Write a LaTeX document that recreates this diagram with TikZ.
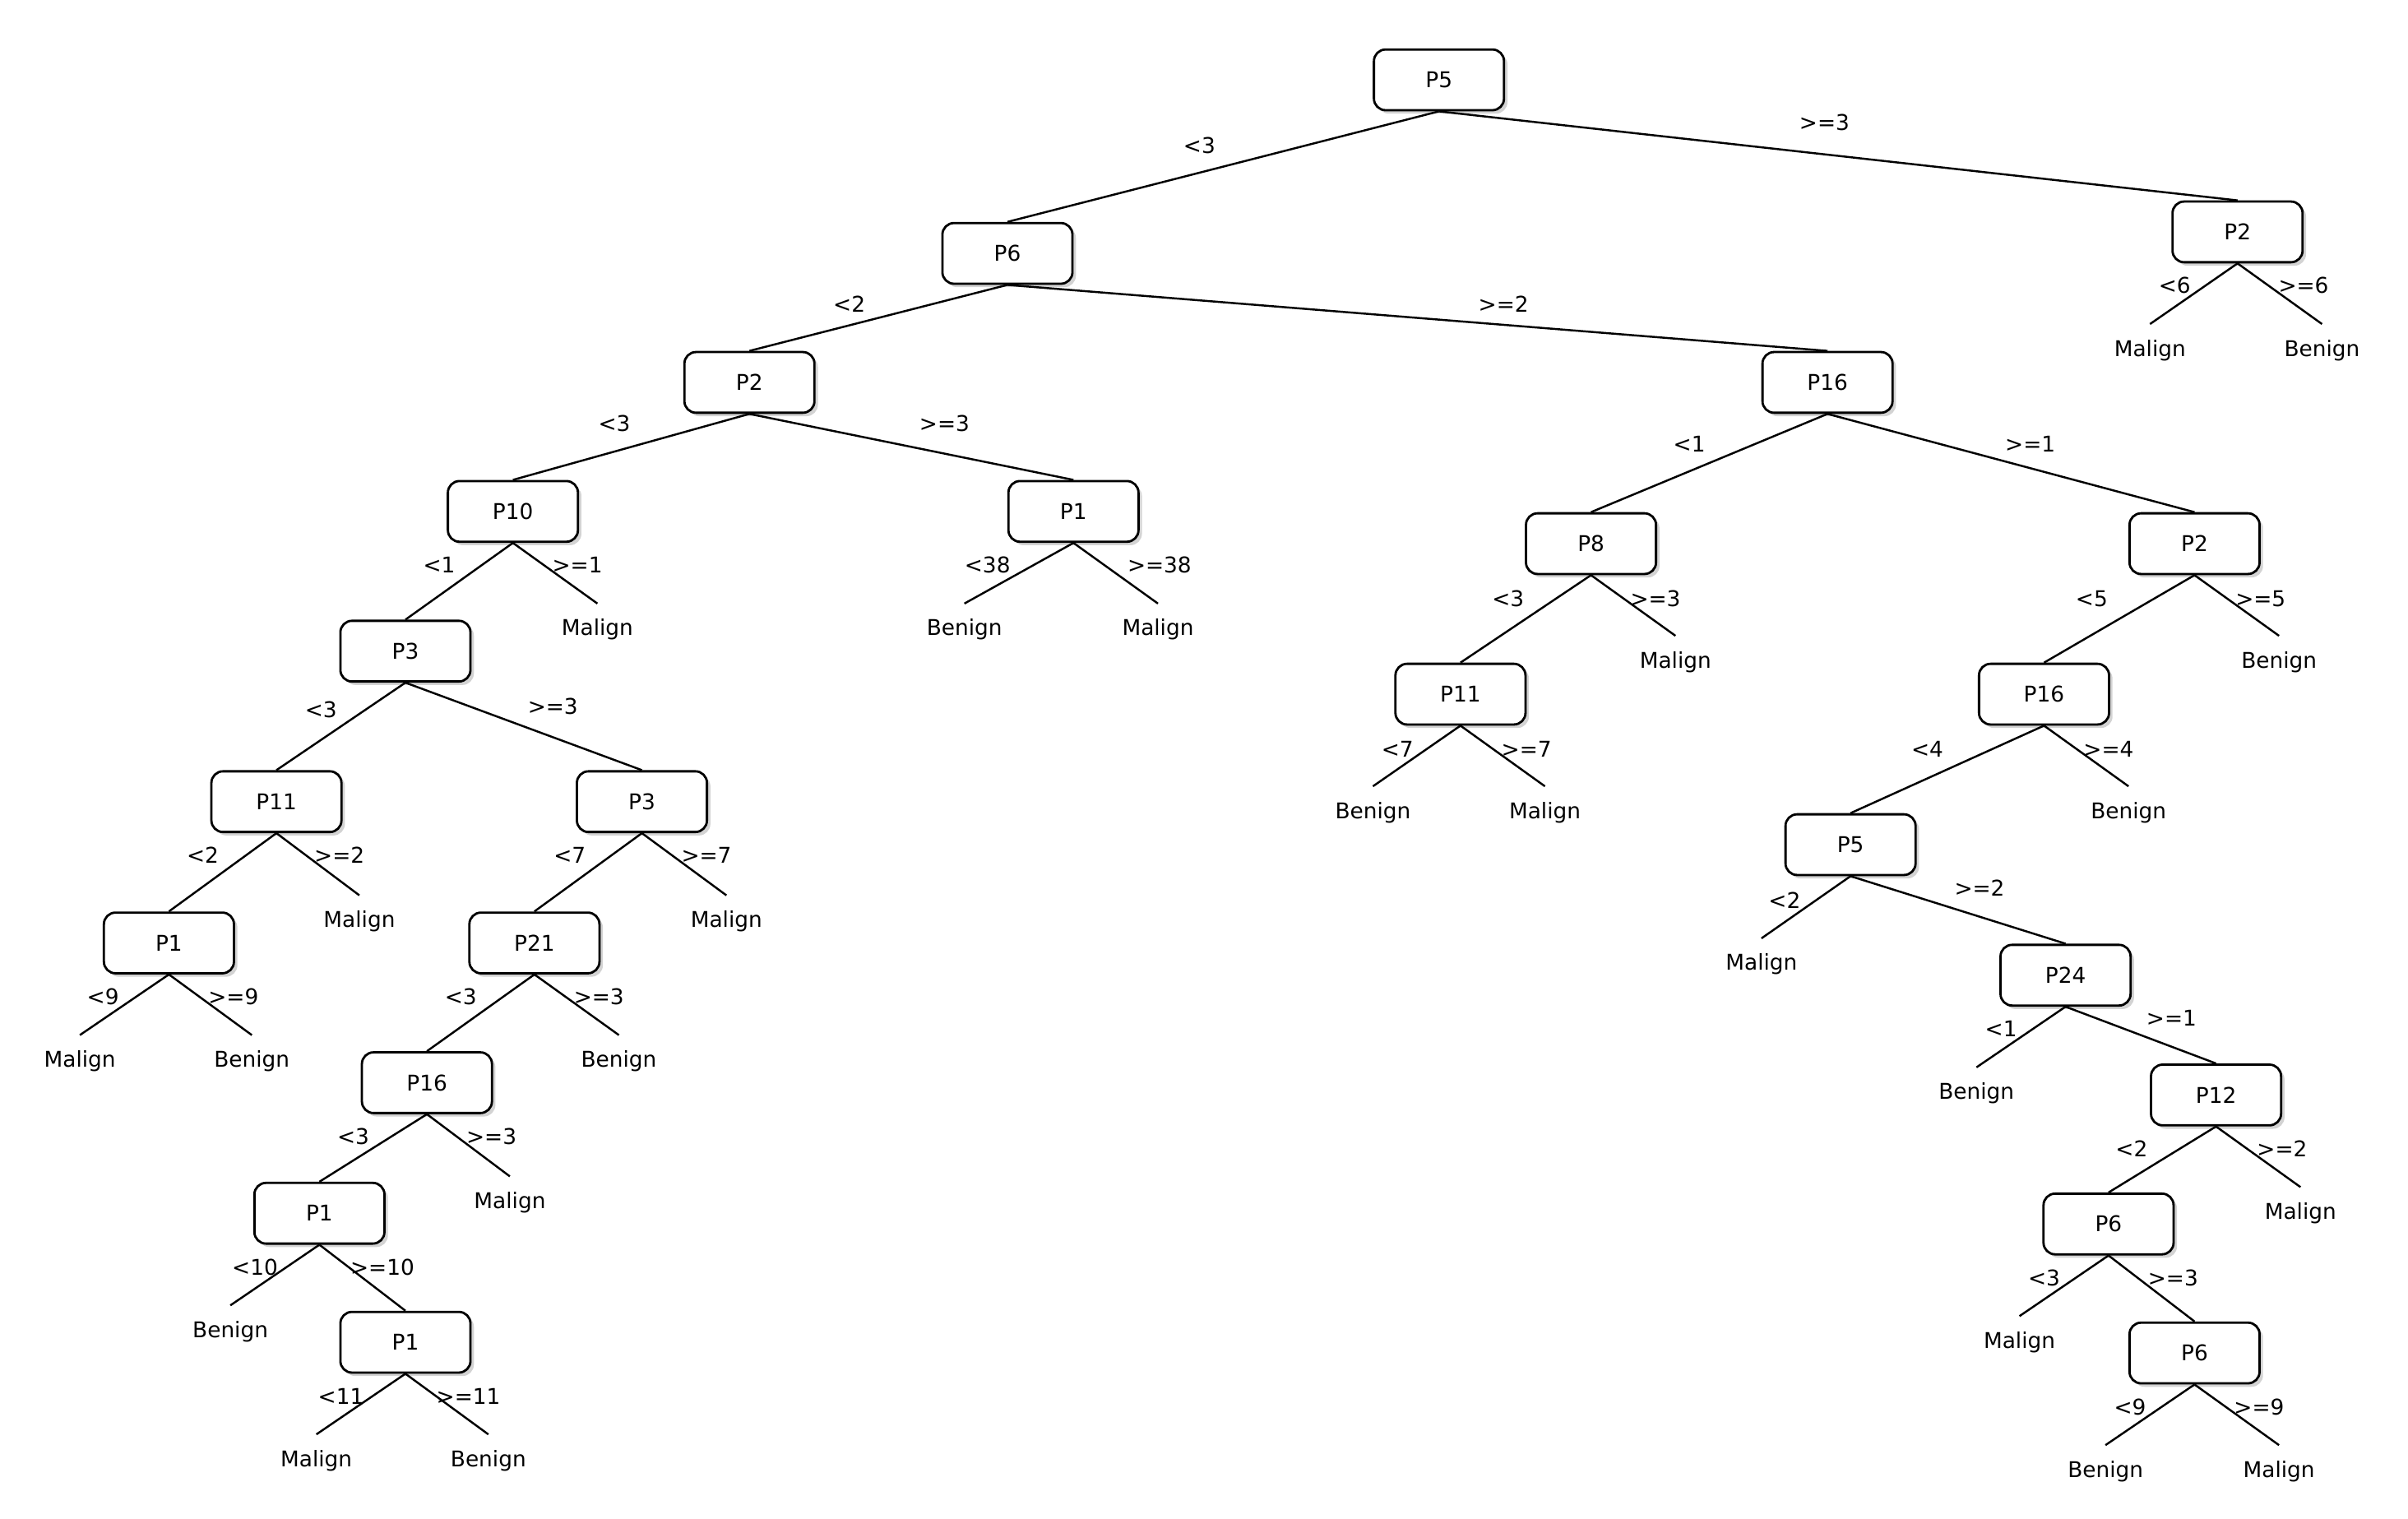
\documentclass[tikz,border=0pt]{standalone}
\usepackage{fontspec}
\setmainfont{DejaVu Sans}
\usetikzlibrary{shadows}
\begin{document}
\begin{tikzpicture}[x=0.018673cm,y=-0.018673cm,
 box/.style={draw,line width=0.8pt,rounded corners=4pt,fill=white,minimum width=45pt,minimum height=21pt,font=\fontsize{7.5}{9}\selectfont,drop shadow={shadow xshift=1.2pt,shadow yshift=-1.2pt,opacity=0.35}},
 leaf/.style={font=\fontsize{7.5}{9}\selectfont,inner sep=0pt},
 lab/.style={font=\fontsize{7.5}{9}\selectfont,inner sep=0pt},
 every path/.style={line width=0.7pt}]
\useasboundingbox (0,0) rectangle (1568,988.6);
% internal nodes
\node[box] (r) at (937,52) {P5};
\node[box] (p6) at (656,165) {P6};
\node[box] (p2r) at (1457,151) {P2};
\node[box] (p2a) at (488,249) {P2};
\node[box] (p16a) at (1190,249) {P16};
\node[box] (p10) at (334,333) {P10};
\node[box] (p1a) at (699,333) {P1};
\node[box] (p8) at (1036,354) {P8};
\node[box] (p2b) at (1429,354) {P2};
\node[box] (p3a) at (264,424) {P3};
\node[box] (p11a) at (951,452) {P11};
\node[box] (p16b) at (1331,452) {P16};
\node[box] (p11b) at (180,522) {P11};
\node[box] (p3b) at (418,522) {P3};
\node[box] (p5b) at (1205,550) {P5};
\node[box] (p1b) at (110,614) {P1};
\node[box] (p21) at (348,614) {P21};
\node[box] (p24) at (1345,635) {P24};
\node[box] (p16c) at (278,705) {P16};
\node[box] (p12) at (1443,713) {P12};
\node[box] (p1c) at (208,790) {P1};
\node[box] (p6b) at (1373,797) {P6};
\node[box] (p1d) at (264,874) {P1};
\node[box] (p6c) at (1429,881) {P6};
% internal edges
\foreach \a/\b in {r/p6,r/p2r,p6/p2a,p6/p16a,p2a/p10,p2a/p1a,p16a/p8,p16a/p2b,p10/p3a,p8/p11a,p2b/p16b,p3a/p11b,p3a/p3b,p16b/p5b,p11b/p1b,p3b/p21,p5b/p24,p21/p16c,p24/p12,p16c/p1c,p12/p6b,p1c/p1d,p6b/p6c}
  \draw (\a.south) -- (\b.north);
% leaves
\foreach \p/\n/\t/\x/\y in {p2r/l1/Malign/1400/228, p2r/l2/Benign/1512/228,
 p10/l3/Malign/389/410, p1a/l4/Benign/628/410, p1a/l5/Malign/754/410,
 p8/l6/Malign/1091/431, p2b/l7/Benign/1484/431,
 p11a/l8/Benign/894/529, p11a/l9/Malign/1006/529, p16b/l10/Benign/1386/529,
 p11b/l11/Malign/234/600, p3b/l12/Malign/473/600, p5b/l13/Malign/1147/628,
 p1b/l14/Malign/52/691, p1b/l15/Benign/164/691, p21/l16/Benign/403/691,
 p24/l17/Benign/1287/712, p16c/l18/Malign/332/783, p12/l19/Malign/1498/790,
 p1c/l20/Benign/150/867, p6b/l21/Malign/1315/874,
 p1d/l22/Malign/206/951, p1d/l23/Benign/318/951,
 p6c/l24/Benign/1371/958, p6c/l25/Malign/1484/958}
 {\node[leaf] (\n) at (\x,\y) {\t};
  \coordinate (\n e) at (\x,\y-17);
  \draw (\p.south) -- (\n e);}
% edge labels
\foreach \t/\x/\y in {<3/781/95, >=3/1188/80, <6/1416/186, >=6/1500/186,
 <2/553/198, >=2/979/198, <3/400/276, >=3/615/276, <1/1100/289, >=1/1322/289,
 <1/286/368, >=1/376/368, <38/643/368, >=38/755/368, <3/982/390, >=3/1078/390,
 <5/1362/390, >=5/1472/390, <3/209/462, >=3/360/460, <7/910/488, >=7/994/488,
 <4/1255/488, >=4/1373/488, <2/132/557, >=2/221/557, <7/371/557, >=7/460/557,
 <2/1162/586, >=2/1289/578, <9/67/649, >=9/152/649, <3/300/649, >=3/390/649,
 <1/1303/670, >=1/1414/663, <3/230/740, >=3/320/740, <2/1388/748, >=2/1486/748,
 <10/166/825, >=10/249/825, <3/1331/832, >=3/1415/832, <11/222/909, >=11/305/909,
 <9/1387/916, >=9/1471/916}
 \node[lab] at (\x,\y) {\t};
\end{tikzpicture}
\end{document}
